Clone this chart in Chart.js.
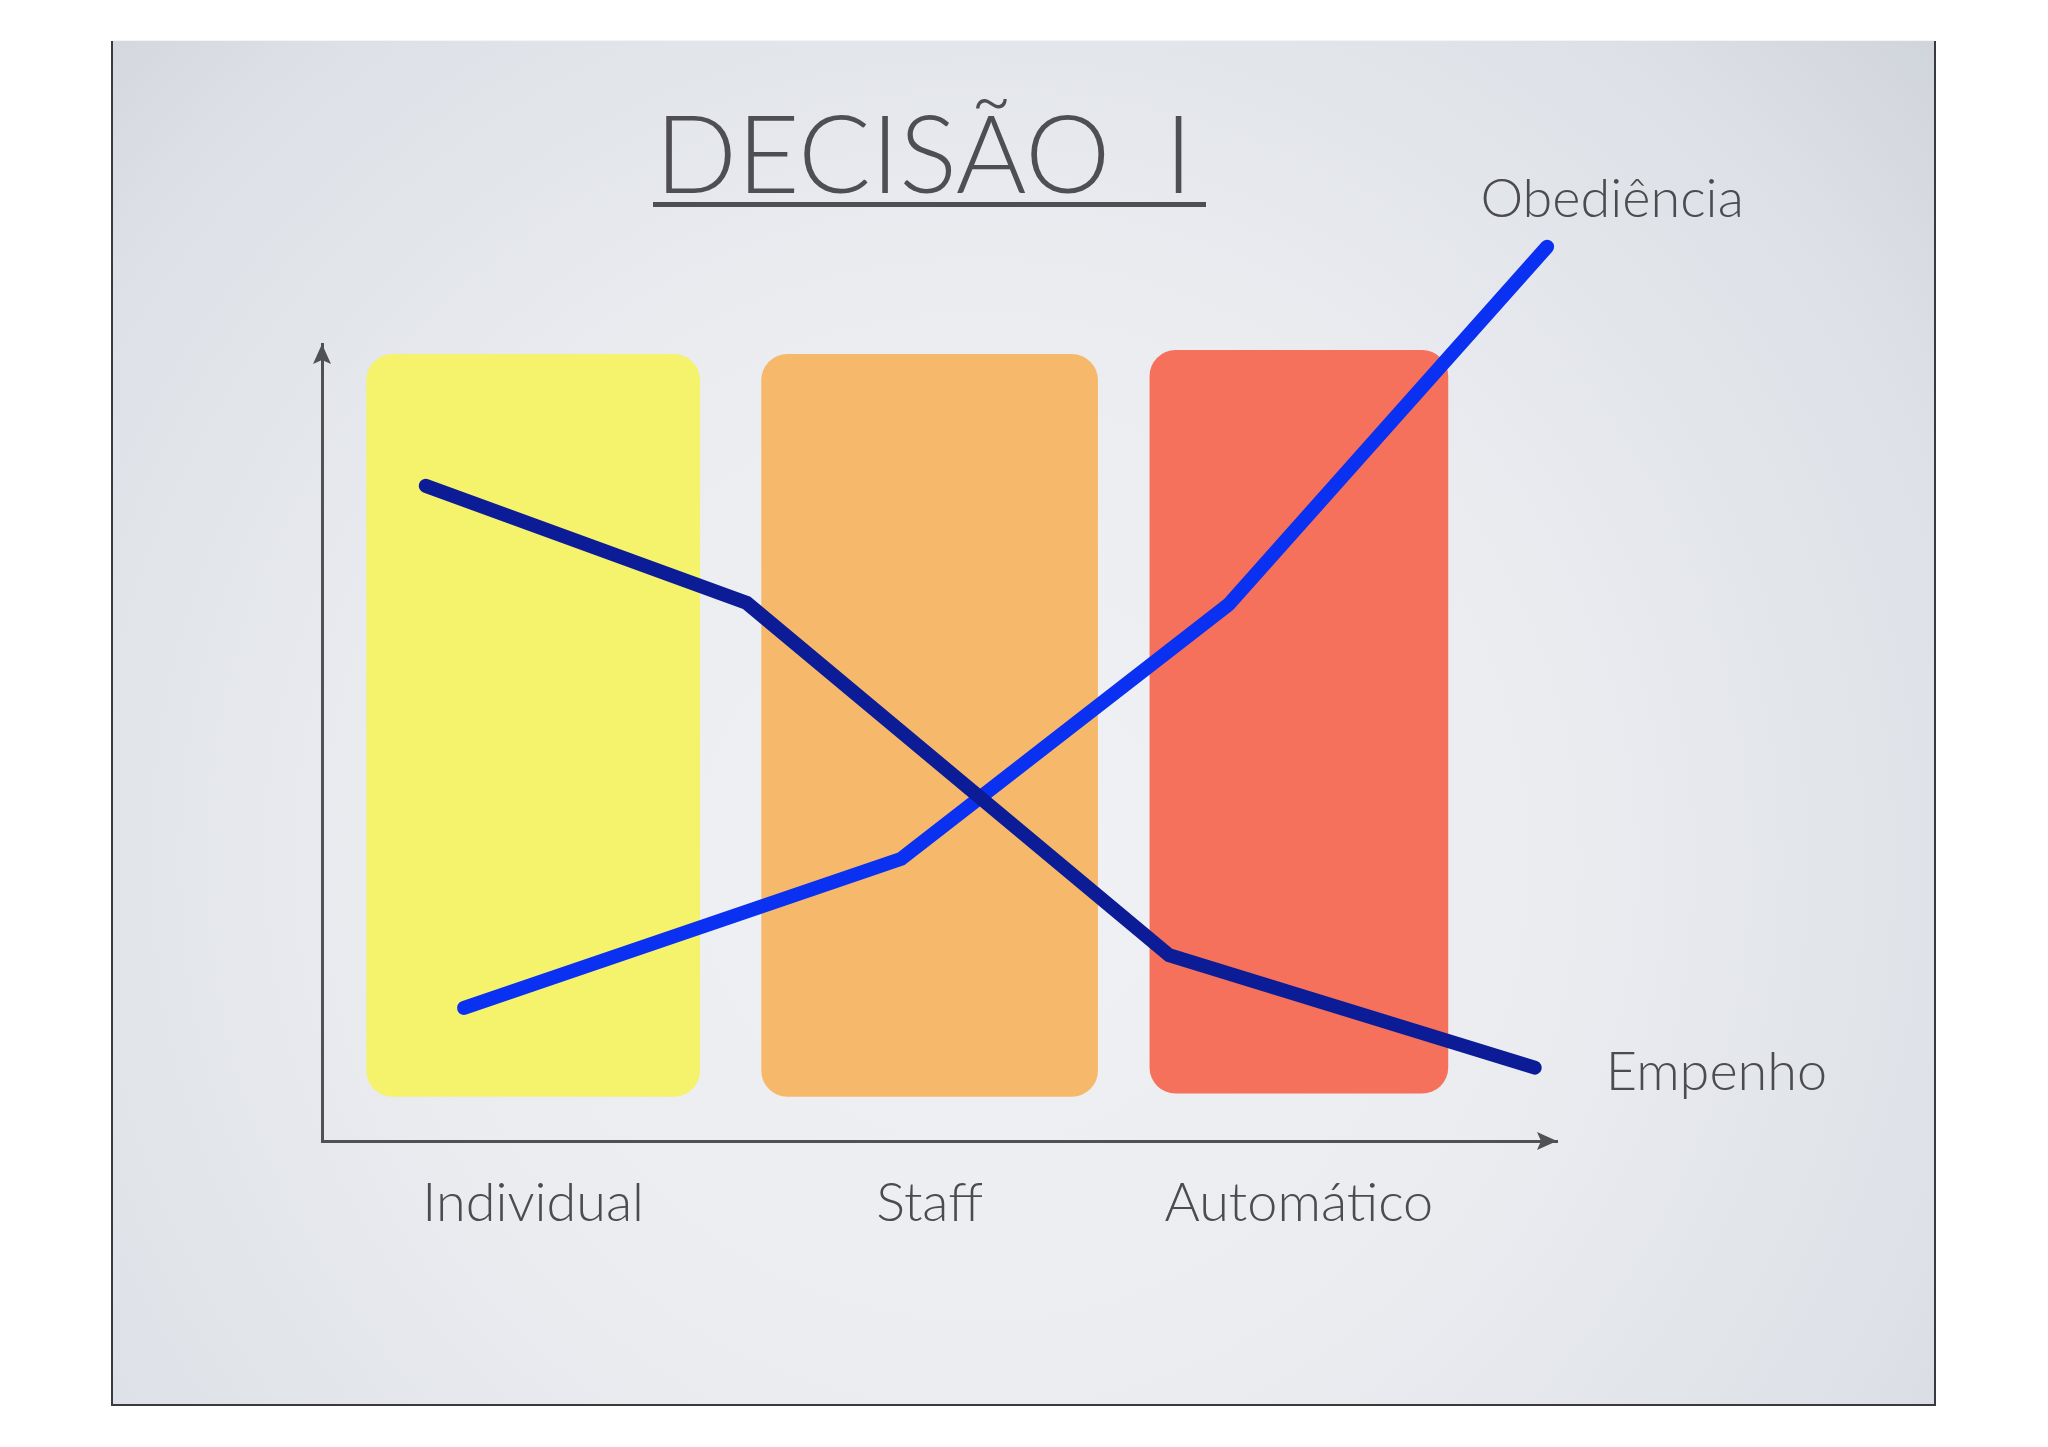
<!DOCTYPE html>
<html><head><meta charset="utf-8">
<script src="https://cdn.jsdelivr.net/npm/chart.js@4.4.1/dist/chart.umd.min.js"></script>
<style>html,body{margin:0;padding:0;background:#fff;}canvas{display:block}</style>
</head><body>
<canvas id="c" width="2048" height="1447"></canvas>
<script>
// ---- data ----
const titleText = 'DECISÃO\u2002I';
const categories = ['Individual', 'Staff', 'Automático'];
const categoryX = [17.1, 49.2, 79.1];
const barLow = [5.6, 5.6, 6.0];
const barHigh = [98.7, 98.7, 99.2];
const seriesNames = ['Empenho', 'Obediência'];
const empenhoX = [8.4, 34.4, 68.6, 98.2];
const empenhoY = [82.2, 67.5, 23.3, 9.2];
const obedienciaX = [11.5, 46.9, 73.4, 99.2];
const obedienciaY = [16.7, 35.4, 67.3, 112.2];

// ---- styles ----
const barColors = ['#f5f26c', '#f6b96b', '#f6715b'];
const barWidths = [333, 336, 298];
const lineColors = ['#0b1c96', '#0a31f2'];
const textColor = '#4b4b50';
const FONT = 'Lato, "Open Sans", sans-serif';

const toPts = (xs, ys) => xs.map((x, i) => ({x: x, y: ys[i]}));

const barDatasets = categories.map((c, i) => ({
  type: 'bar',
  label: c,
  data: [{x: categoryX[i], y: [barLow[i], barHigh[i]]}],
  backgroundColor: barColors[i],
  barThickness: barWidths[i],
  grouped: false,
  borderRadius: 26,
  borderSkipped: false,
  borderWidth: 0,
  order: 3
}));

const lineDatasets = [
  {type: 'line', label: seriesNames[0], data: toPts(empenhoX, empenhoY), borderColor: lineColors[0], order: 1},
  {type: 'line', label: seriesNames[1], data: toPts(obedienciaX, obedienciaY), borderColor: lineColors[1], order: 2}
].map(d => Object.assign(d, {borderWidth: 14, tension: 0, pointRadius: 0, pointHoverRadius: 0, clip: false,
  borderCapStyle: 'round', borderJoinStyle: 'miter', fill: false}));

const slidePlugin = {
  id: 'slide',
  beforeDraw(chart) {
    const ctx = chart.ctx;
    ctx.save();
    const L = 112, T = 41, R = 1935, B = 1405;
    const g = ctx.createRadialGradient(980, 860, 0, 980, 860, 1300);
    g.addColorStop(0, '#f0f1f4');
    g.addColorStop(0.45, '#eaecf0');
    g.addColorStop(0.8, '#dde0e6');
    g.addColorStop(1, '#ced2d9');
    ctx.fillStyle = g;
    ctx.fillRect(L, T, R - L, B - T);
    ctx.fillStyle = '#f4f4f5';
    ctx.fillRect(L, T - 1, R - L, 1);
    ctx.fillStyle = '#3a3a3e';
    ctx.fillRect(L - 1, T, 2, B - T + 1);
    ctx.fillRect(R - 1, T, 2, B - T + 1);
    ctx.fillRect(L - 1, B - 1, R - L + 2, 2);
    ctx.restore();
  },
  afterDraw(chart) {
    const ctx = chart.ctx;
    const a = chart.chartArea;
    ctx.save();
    // arrows
    ctx.fillStyle = '#505055';
    ctx.beginPath();
    ctx.moveTo(a.left, a.top);
    ctx.lineTo(a.left + 9, a.top + 20);
    ctx.lineTo(a.left, a.top + 16);
    ctx.lineTo(a.left - 9, a.top + 20);
    ctx.closePath();
    ctx.fill();
    ctx.beginPath();
    ctx.moveTo(a.right, a.bottom);
    ctx.lineTo(a.right - 20, a.bottom - 9);
    ctx.lineTo(a.right - 16, a.bottom);
    ctx.lineTo(a.right - 20, a.bottom + 9);
    ctx.closePath();
    ctx.fill();
    // title
    ctx.fillStyle = '#4e4e53';
    ctx.font = '300 108px ' + FONT;
    ctx.textAlign = 'left';
    ctx.textBaseline = 'alphabetic';
    ctx.fillText(titleText, 655, 193);
    ctx.fillRect(653, 202, 553, 5);
    // series labels at the line ends
    ctx.fillStyle = textColor;
    ctx.font = '300 54px ' + FONT;
    const m0 = chart.getDatasetMeta(chart.data.datasets.findIndex(d => d.label === seriesNames[0]));
    const m1 = chart.getDatasetMeta(chart.data.datasets.findIndex(d => d.label === seriesNames[1]));
    const e0 = m0.data[m0.data.length - 1];
    const e1 = m1.data[m1.data.length - 1];
    ctx.textAlign = 'left';
    ctx.fillText(seriesNames[0], e0.x + 71, e0.y + 22);
    ctx.textAlign = 'center';
    ctx.fillText(seriesNames[1], e1.x + 65, e1.y - 30);
    ctx.restore();
  }
};

new Chart(document.getElementById('c'), {
  type: 'line',
  data: {datasets: [...lineDatasets, ...barDatasets]},
  options: {
    responsive: false,
    animation: false,
    events: [],
    layout: {autoPadding: false, padding: {left: 322, right: 491, top: 344, bottom: 206}},
    plugins: {legend: {display: false}, title: {display: false}, tooltip: {enabled: false}},
    scales: {
      x: {
        type: 'linear', min: 0, max: 100, offset: false,
        grid: {display: false, drawTicks: false},
        border: {display: true, color: '#505055', width: 3},
        afterBuildTicks: s => { s.ticks = categoryX.map(v => ({value: v})); },
        afterFit: s => { s.height = 100; },
        ticks: {
          autoSkip: false, maxRotation: 0, padding: 30,
          color: textColor,
          font: {family: FONT, size: 54, weight: 300},
          callback: (v, i) => categories[i]
        }
      },
      y: {
        type: 'linear', min: 0, max: 100,
        grid: {display: false, drawTicks: false},
        border: {display: true, color: '#505055', width: 3},
        ticks: {display: false},
        afterFit: s => { s.width = 0; }
      }
    }
  },
  plugins: [slidePlugin]
});
</script>
</body></html>
